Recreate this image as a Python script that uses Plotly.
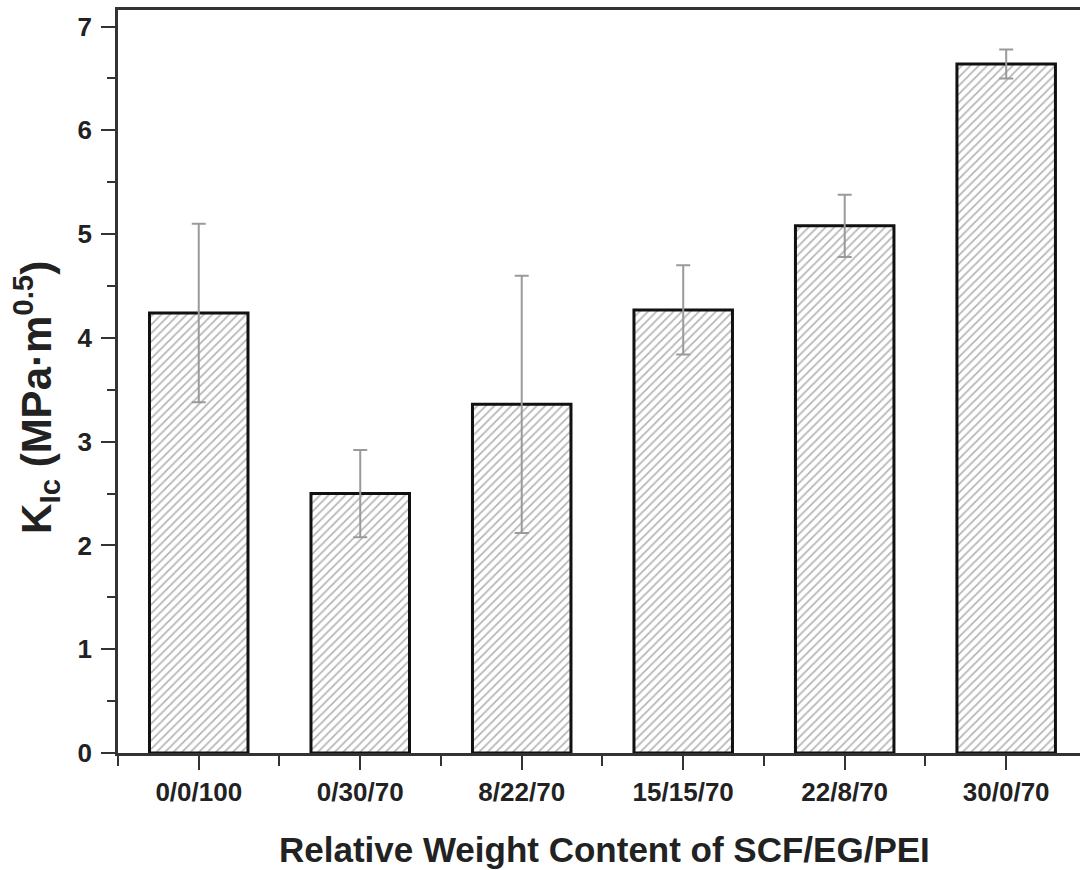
import plotly.graph_objects as go

categories = ["0/0/100", "0/30/70", "8/22/70", "15/15/70", "22/8/70", "30/0/70"]
kic_values = [4.24, 2.50, 3.36, 4.27, 5.08, 6.64]
kic_errors = [0.86, 0.42, 1.24, 0.43, 0.30, 0.14]
y_tick_values = [0, 1, 2, 3, 4, 5, 6, 7]

x_pos = list(range(len(categories)))
font_family = "Liberation Sans, Arial, sans-serif"

fig = go.Figure()
fig.add_trace(go.Bar(
    x=x_pos,
    y=kic_values,
    width=0.61,
    marker=dict(
        color="white",
        line=dict(color="#111111", width=3),
        pattern=dict(shape="/", fgcolor="#6e6e6e", bgcolor="white", size=6, solidity=0.3),
    ),
    error_y=dict(type="data", array=kic_errors, visible=True, color="#9a9a9a", thickness=2, width=7),
    showlegend=False,
))

fig.update_layout(
    width=1080,
    height=870,
    margin=dict(l=118, r=0, t=10, b=117),
    paper_bgcolor="white",
    plot_bgcolor="white",
    font=dict(family=font_family, color="#222222"),
    annotations=[
        dict(text="<b>Relative Weight Content of SCF/EG/PEI</b>", xref="paper", yref="paper",
             x=0.506, y=-0.1305, xanchor="center", yanchor="middle", showarrow=False,
             font=dict(size=35, family=font_family, color="#222222")),
        dict(text="<b>K<sub>Ic</sub> (MPa·m<sup>0.5</sup>)</b>", xref="paper", yref="paper",
             x=-0.0852, y=0.478, xanchor="center", yanchor="middle", showarrow=False, textangle=-90,
             font=dict(size=42, family=font_family, color="#222222")),
    ],
)

fig.update_xaxes(
    range=[-0.5, 5.457],
    tickvals=x_pos,
    ticktext=["<b>%s</b>" % c for c in categories],
    tickfont=dict(size=26, family=font_family, color="#222222"),
    ticks="outside",
    ticklen=14,
    tickwidth=2,
    tickcolor="#333333",
    ticklabelstandoff=0,
    minor=dict(tickvals=[i - 0.5 for i in range(len(categories) + 1)], ticks="outside", ticklen=10, tickwidth=2, tickcolor="#333333"),
    showline=True,
    linecolor="#333333",
    linewidth=2.5,
    mirror=True,
    showgrid=False,
    zeroline=False,
)

fig.update_yaxes(
    range=[0, 7.16],
    tickvals=y_tick_values,
    ticktext=["<b>%d</b>" % v for v in y_tick_values],
    tickfont=dict(size=26, family=font_family, color="#222222"),
    ticks="outside",
    ticklen=14,
    tickwidth=2,
    tickcolor="#333333",
    ticklabelstandoff=4,
    minor=dict(dtick=0.5, tick0=0, ticks="outside", ticklen=8, tickwidth=2, tickcolor="#333333"),
    showline=True,
    linecolor="#333333",
    linewidth=2.5,
    mirror=False,
    showgrid=False,
    zeroline=False,
)

fig.write_html("out.html")
